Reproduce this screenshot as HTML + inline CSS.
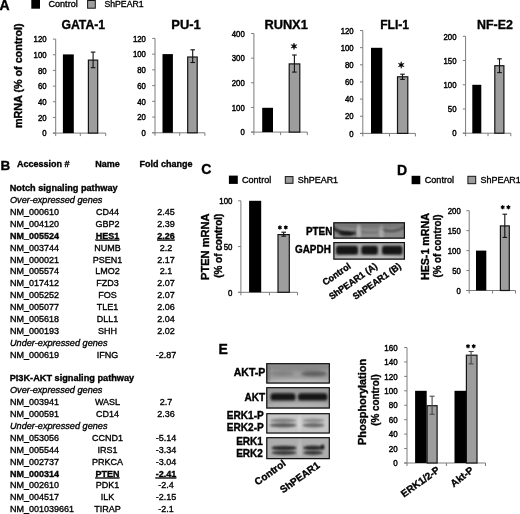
<!DOCTYPE html>
<html><head><meta charset="utf-8"><style>
html,body{margin:0;padding:0;background:#fff;}
svg{display:block;will-change:transform;}
svg text{font-family:"Liberation Sans", sans-serif;stroke:#000;stroke-width:0.35px;paint-order:stroke;}
</style></head><body>
<svg width="520" height="514" viewBox="0 0 520 514">
<rect width="520" height="514" fill="#fff"/>
<text x="-0.50" y="10.00" font-size="14" font-weight="bold">A</text>
<rect x="31.30" y="0.00" width="8.70" height="8.70" fill="#000"/>
<text x="48.50" y="6.90" font-size="9" textLength="29.20" lengthAdjust="spacingAndGlyphs">Control</text>
<rect x="87.60" y="0.50" width="7.70" height="7.70" fill="#9d9d9d" stroke="#141414" stroke-width="1"/>
<text x="104.40" y="6.90" font-size="9" textLength="39.20" lengthAdjust="spacingAndGlyphs">ShPEAR1</text>
<text x="21.80" y="75.70" font-size="11" font-weight="bold" text-anchor="middle" textLength="104.60" lengthAdjust="spacingAndGlyphs" transform="rotate(-90 21.80 75.70)">mRNA (% of control)</text>
<line x1="55.70" y1="39.10" x2="55.70" y2="133.10" stroke="#7c7c7c" stroke-width="1"/>
<line x1="52.90" y1="133.10" x2="105.70" y2="133.10" stroke="#7c7c7c" stroke-width="1"/>
<line x1="52.90" y1="133.10" x2="55.70" y2="133.10" stroke="#7c7c7c" stroke-width="1"/>
<text x="46.60" y="136.30" font-size="9" style="stroke-width:0.45px" text-anchor="end" textLength="4.34" lengthAdjust="spacingAndGlyphs">0</text>
<line x1="52.90" y1="117.43" x2="55.70" y2="117.43" stroke="#7c7c7c" stroke-width="1"/>
<text x="46.60" y="120.63" font-size="9" style="stroke-width:0.45px" text-anchor="end" textLength="8.67" lengthAdjust="spacingAndGlyphs">20</text>
<line x1="52.90" y1="101.77" x2="55.70" y2="101.77" stroke="#7c7c7c" stroke-width="1"/>
<text x="46.60" y="104.97" font-size="9" style="stroke-width:0.45px" text-anchor="end" textLength="8.67" lengthAdjust="spacingAndGlyphs">40</text>
<line x1="52.90" y1="86.10" x2="55.70" y2="86.10" stroke="#7c7c7c" stroke-width="1"/>
<text x="46.60" y="89.30" font-size="9" style="stroke-width:0.45px" text-anchor="end" textLength="8.67" lengthAdjust="spacingAndGlyphs">60</text>
<line x1="52.90" y1="70.43" x2="55.70" y2="70.43" stroke="#7c7c7c" stroke-width="1"/>
<text x="46.60" y="73.63" font-size="9" style="stroke-width:0.45px" text-anchor="end" textLength="8.67" lengthAdjust="spacingAndGlyphs">80</text>
<line x1="52.90" y1="54.77" x2="55.70" y2="54.77" stroke="#7c7c7c" stroke-width="1"/>
<text x="46.60" y="57.97" font-size="9" style="stroke-width:0.45px" text-anchor="end" textLength="13.01" lengthAdjust="spacingAndGlyphs">100</text>
<line x1="52.90" y1="39.10" x2="55.70" y2="39.10" stroke="#7c7c7c" stroke-width="1"/>
<text x="46.60" y="42.30" font-size="9" style="stroke-width:0.45px" text-anchor="end" textLength="13.01" lengthAdjust="spacingAndGlyphs">120</text>
<line x1="55.70" y1="133.10" x2="55.70" y2="136.10" stroke="#7c7c7c" stroke-width="1"/>
<line x1="80.30" y1="133.10" x2="80.30" y2="136.10" stroke="#7c7c7c" stroke-width="1"/>
<line x1="105.70" y1="133.10" x2="105.70" y2="136.10" stroke="#7c7c7c" stroke-width="1"/>
<rect x="62.90" y="54.40" width="10.90" height="78.70" fill="#000"/>
<rect x="88.40" y="60.10" width="9.30" height="73.00" fill="#9d9d9d" stroke="#141414" stroke-width="1.2"/>
<line x1="93.10" y1="52.10" x2="93.10" y2="67.70" stroke="#111" stroke-width="1.1"/>
<line x1="90.80" y1="52.10" x2="95.40" y2="52.10" stroke="#111" stroke-width="1.1"/>
<line x1="90.80" y1="67.70" x2="95.40" y2="67.70" stroke="#111" stroke-width="1.1"/>
<text x="61.40" y="29.10" font-size="13" font-weight="bold" textLength="43.80" lengthAdjust="spacingAndGlyphs">GATA-1</text>
<line x1="155.00" y1="38.40" x2="155.00" y2="132.80" stroke="#7c7c7c" stroke-width="1"/>
<line x1="152.20" y1="132.80" x2="204.90" y2="132.80" stroke="#7c7c7c" stroke-width="1"/>
<line x1="152.20" y1="132.80" x2="155.00" y2="132.80" stroke="#7c7c7c" stroke-width="1"/>
<text x="145.90" y="136.00" font-size="9" style="stroke-width:0.45px" text-anchor="end" textLength="4.34" lengthAdjust="spacingAndGlyphs">0</text>
<line x1="152.20" y1="117.07" x2="155.00" y2="117.07" stroke="#7c7c7c" stroke-width="1"/>
<text x="145.90" y="120.27" font-size="9" style="stroke-width:0.45px" text-anchor="end" textLength="8.67" lengthAdjust="spacingAndGlyphs">20</text>
<line x1="152.20" y1="101.33" x2="155.00" y2="101.33" stroke="#7c7c7c" stroke-width="1"/>
<text x="145.90" y="104.53" font-size="9" style="stroke-width:0.45px" text-anchor="end" textLength="8.67" lengthAdjust="spacingAndGlyphs">40</text>
<line x1="152.20" y1="85.60" x2="155.00" y2="85.60" stroke="#7c7c7c" stroke-width="1"/>
<text x="145.90" y="88.80" font-size="9" style="stroke-width:0.45px" text-anchor="end" textLength="8.67" lengthAdjust="spacingAndGlyphs">60</text>
<line x1="152.20" y1="69.87" x2="155.00" y2="69.87" stroke="#7c7c7c" stroke-width="1"/>
<text x="145.90" y="73.07" font-size="9" style="stroke-width:0.45px" text-anchor="end" textLength="8.67" lengthAdjust="spacingAndGlyphs">80</text>
<line x1="152.20" y1="54.13" x2="155.00" y2="54.13" stroke="#7c7c7c" stroke-width="1"/>
<text x="145.90" y="57.33" font-size="9" style="stroke-width:0.45px" text-anchor="end" textLength="13.01" lengthAdjust="spacingAndGlyphs">100</text>
<line x1="152.20" y1="38.40" x2="155.00" y2="38.40" stroke="#7c7c7c" stroke-width="1"/>
<text x="145.90" y="41.60" font-size="9" style="stroke-width:0.45px" text-anchor="end" textLength="13.01" lengthAdjust="spacingAndGlyphs">120</text>
<line x1="155.00" y1="132.80" x2="155.00" y2="135.80" stroke="#7c7c7c" stroke-width="1"/>
<line x1="179.70" y1="132.80" x2="179.70" y2="135.80" stroke="#7c7c7c" stroke-width="1"/>
<line x1="204.90" y1="132.80" x2="204.90" y2="135.80" stroke="#7c7c7c" stroke-width="1"/>
<rect x="162.50" y="54.10" width="10.40" height="78.70" fill="#000"/>
<rect x="187.70" y="57.00" width="9.50" height="75.80" fill="#9d9d9d" stroke="#141414" stroke-width="1.2"/>
<line x1="192.70" y1="49.80" x2="192.70" y2="62.50" stroke="#111" stroke-width="1.1"/>
<line x1="190.40" y1="49.80" x2="195.00" y2="49.80" stroke="#111" stroke-width="1.1"/>
<line x1="190.40" y1="62.50" x2="195.00" y2="62.50" stroke="#111" stroke-width="1.1"/>
<text x="171.30" y="29.10" font-size="13" font-weight="bold" textLength="29.50" lengthAdjust="spacingAndGlyphs">PU-1</text>
<line x1="253.90" y1="33.50" x2="253.90" y2="132.10" stroke="#7c7c7c" stroke-width="1"/>
<line x1="251.10" y1="132.10" x2="307.30" y2="132.10" stroke="#7c7c7c" stroke-width="1"/>
<line x1="251.10" y1="132.10" x2="253.90" y2="132.10" stroke="#7c7c7c" stroke-width="1"/>
<text x="244.80" y="135.30" font-size="9" style="stroke-width:0.45px" text-anchor="end" textLength="4.34" lengthAdjust="spacingAndGlyphs">0</text>
<line x1="251.10" y1="107.45" x2="253.90" y2="107.45" stroke="#7c7c7c" stroke-width="1"/>
<text x="244.80" y="110.65" font-size="9" style="stroke-width:0.45px" text-anchor="end" textLength="13.01" lengthAdjust="spacingAndGlyphs">100</text>
<line x1="251.10" y1="82.80" x2="253.90" y2="82.80" stroke="#7c7c7c" stroke-width="1"/>
<text x="244.80" y="86.00" font-size="9" style="stroke-width:0.45px" text-anchor="end" textLength="13.01" lengthAdjust="spacingAndGlyphs">200</text>
<line x1="251.10" y1="58.15" x2="253.90" y2="58.15" stroke="#7c7c7c" stroke-width="1"/>
<text x="244.80" y="61.35" font-size="9" style="stroke-width:0.45px" text-anchor="end" textLength="13.01" lengthAdjust="spacingAndGlyphs">300</text>
<line x1="251.10" y1="33.50" x2="253.90" y2="33.50" stroke="#7c7c7c" stroke-width="1"/>
<text x="244.80" y="36.70" font-size="9" style="stroke-width:0.45px" text-anchor="end" textLength="13.01" lengthAdjust="spacingAndGlyphs">400</text>
<line x1="253.90" y1="132.10" x2="253.90" y2="135.10" stroke="#7c7c7c" stroke-width="1"/>
<line x1="280.60" y1="132.10" x2="280.60" y2="135.10" stroke="#7c7c7c" stroke-width="1"/>
<line x1="307.30" y1="132.10" x2="307.30" y2="135.10" stroke="#7c7c7c" stroke-width="1"/>
<rect x="262.20" y="107.80" width="10.80" height="24.30" fill="#000"/>
<rect x="289.20" y="63.90" width="10.60" height="68.20" fill="#9d9d9d" stroke="#141414" stroke-width="1.2"/>
<line x1="294.40" y1="55.00" x2="294.40" y2="72.10" stroke="#111" stroke-width="1.1"/>
<line x1="292.10" y1="55.00" x2="296.70" y2="55.00" stroke="#111" stroke-width="1.1"/>
<line x1="292.10" y1="72.10" x2="296.70" y2="72.10" stroke="#111" stroke-width="1.1"/>
<text x="264.40" y="29.10" font-size="13" font-weight="bold" textLength="43.40" lengthAdjust="spacingAndGlyphs">RUNX1</text>
<polygon points="294.00,43.00 293.38,45.22 291.14,44.65 292.75,46.30 291.14,47.95 293.38,47.38 294.00,49.60 294.62,47.38 296.86,47.95 295.25,46.30 296.86,44.65 294.62,45.22" fill="#000" stroke="#000" stroke-width="0.5" stroke-linejoin="round"/>
<line x1="362.80" y1="30.50" x2="362.80" y2="133.40" stroke="#7c7c7c" stroke-width="1"/>
<line x1="360.00" y1="133.40" x2="415.40" y2="133.40" stroke="#7c7c7c" stroke-width="1"/>
<line x1="360.00" y1="133.40" x2="362.80" y2="133.40" stroke="#7c7c7c" stroke-width="1"/>
<text x="353.70" y="136.60" font-size="9" style="stroke-width:0.45px" text-anchor="end" textLength="4.34" lengthAdjust="spacingAndGlyphs">0</text>
<line x1="360.00" y1="116.25" x2="362.80" y2="116.25" stroke="#7c7c7c" stroke-width="1"/>
<text x="353.70" y="119.45" font-size="9" style="stroke-width:0.45px" text-anchor="end" textLength="8.67" lengthAdjust="spacingAndGlyphs">20</text>
<line x1="360.00" y1="99.10" x2="362.80" y2="99.10" stroke="#7c7c7c" stroke-width="1"/>
<text x="353.70" y="102.30" font-size="9" style="stroke-width:0.45px" text-anchor="end" textLength="8.67" lengthAdjust="spacingAndGlyphs">40</text>
<line x1="360.00" y1="81.95" x2="362.80" y2="81.95" stroke="#7c7c7c" stroke-width="1"/>
<text x="353.70" y="85.15" font-size="9" style="stroke-width:0.45px" text-anchor="end" textLength="8.67" lengthAdjust="spacingAndGlyphs">60</text>
<line x1="360.00" y1="64.80" x2="362.80" y2="64.80" stroke="#7c7c7c" stroke-width="1"/>
<text x="353.70" y="68.00" font-size="9" style="stroke-width:0.45px" text-anchor="end" textLength="8.67" lengthAdjust="spacingAndGlyphs">80</text>
<line x1="360.00" y1="47.65" x2="362.80" y2="47.65" stroke="#7c7c7c" stroke-width="1"/>
<text x="353.70" y="50.85" font-size="9" style="stroke-width:0.45px" text-anchor="end" textLength="13.01" lengthAdjust="spacingAndGlyphs">100</text>
<line x1="360.00" y1="30.50" x2="362.80" y2="30.50" stroke="#7c7c7c" stroke-width="1"/>
<text x="353.70" y="33.70" font-size="9" style="stroke-width:0.45px" text-anchor="end" textLength="13.01" lengthAdjust="spacingAndGlyphs">120</text>
<line x1="362.80" y1="133.40" x2="362.80" y2="136.40" stroke="#7c7c7c" stroke-width="1"/>
<line x1="389.50" y1="133.40" x2="389.50" y2="136.40" stroke="#7c7c7c" stroke-width="1"/>
<line x1="415.40" y1="133.40" x2="415.40" y2="136.40" stroke="#7c7c7c" stroke-width="1"/>
<rect x="371.00" y="47.80" width="11.30" height="85.60" fill="#000"/>
<rect x="397.50" y="76.80" width="10.30" height="56.60" fill="#9d9d9d" stroke="#141414" stroke-width="1.2"/>
<line x1="402.50" y1="74.20" x2="402.50" y2="79.40" stroke="#111" stroke-width="1.1"/>
<line x1="400.20" y1="74.20" x2="404.80" y2="74.20" stroke="#111" stroke-width="1.1"/>
<line x1="400.20" y1="79.40" x2="404.80" y2="79.40" stroke="#111" stroke-width="1.1"/>
<text x="380.20" y="29.10" font-size="13" font-weight="bold" textLength="28.90" lengthAdjust="spacingAndGlyphs">FLI-1</text>
<polygon points="401.20,61.70 400.57,63.92 398.34,63.35 399.95,65.00 398.34,66.65 400.57,66.08 401.20,68.30 401.82,66.08 404.06,66.65 402.45,65.00 404.06,63.35 401.82,63.92" fill="#000" stroke="#000" stroke-width="0.5" stroke-linejoin="round"/>
<line x1="465.60" y1="36.30" x2="465.60" y2="133.20" stroke="#7c7c7c" stroke-width="1"/>
<line x1="462.80" y1="133.20" x2="510.80" y2="133.20" stroke="#7c7c7c" stroke-width="1"/>
<line x1="462.80" y1="133.20" x2="465.60" y2="133.20" stroke="#7c7c7c" stroke-width="1"/>
<text x="456.50" y="136.40" font-size="9" style="stroke-width:0.45px" text-anchor="end" textLength="4.34" lengthAdjust="spacingAndGlyphs">0</text>
<line x1="462.80" y1="108.97" x2="465.60" y2="108.97" stroke="#7c7c7c" stroke-width="1"/>
<text x="456.50" y="112.17" font-size="9" style="stroke-width:0.45px" text-anchor="end" textLength="8.67" lengthAdjust="spacingAndGlyphs">50</text>
<line x1="462.80" y1="84.75" x2="465.60" y2="84.75" stroke="#7c7c7c" stroke-width="1"/>
<text x="456.50" y="87.95" font-size="9" style="stroke-width:0.45px" text-anchor="end" textLength="13.01" lengthAdjust="spacingAndGlyphs">100</text>
<line x1="462.80" y1="60.52" x2="465.60" y2="60.52" stroke="#7c7c7c" stroke-width="1"/>
<text x="456.50" y="63.72" font-size="9" style="stroke-width:0.45px" text-anchor="end" textLength="13.01" lengthAdjust="spacingAndGlyphs">150</text>
<line x1="462.80" y1="36.30" x2="465.60" y2="36.30" stroke="#7c7c7c" stroke-width="1"/>
<text x="456.50" y="39.50" font-size="9" style="stroke-width:0.45px" text-anchor="end" textLength="13.01" lengthAdjust="spacingAndGlyphs">200</text>
<line x1="465.60" y1="133.20" x2="465.60" y2="136.20" stroke="#7c7c7c" stroke-width="1"/>
<line x1="488.00" y1="133.20" x2="488.00" y2="136.20" stroke="#7c7c7c" stroke-width="1"/>
<line x1="510.80" y1="133.20" x2="510.80" y2="136.20" stroke="#7c7c7c" stroke-width="1"/>
<rect x="472.30" y="84.80" width="9.00" height="48.40" fill="#000"/>
<rect x="494.80" y="65.70" width="9.10" height="67.50" fill="#9d9d9d" stroke="#141414" stroke-width="1.2"/>
<line x1="499.50" y1="58.80" x2="499.50" y2="72.60" stroke="#111" stroke-width="1.1"/>
<line x1="497.20" y1="58.80" x2="501.80" y2="58.80" stroke="#111" stroke-width="1.1"/>
<line x1="497.20" y1="72.60" x2="501.80" y2="72.60" stroke="#111" stroke-width="1.1"/>
<text x="477.10" y="29.10" font-size="13" font-weight="bold" textLength="35.80" lengthAdjust="spacingAndGlyphs">NF-E2</text>
<text x="0.60" y="170.40" font-size="13.5" font-weight="bold">B</text>
<text x="16.90" y="167.40" font-size="9.25" font-weight="bold" textLength="52.53" lengthAdjust="spacingAndGlyphs">Accession #</text>
<text x="107.50" y="167.40" font-size="9.25" font-weight="bold" text-anchor="middle" textLength="24.52" lengthAdjust="spacingAndGlyphs">Name</text>
<text x="166.00" y="167.40" font-size="9.25" font-weight="bold" text-anchor="middle" textLength="53.02" lengthAdjust="spacingAndGlyphs">Fold change</text>
<text x="9.70" y="191.18" font-size="9.25" font-weight="bold" textLength="107.90" lengthAdjust="spacingAndGlyphs">Notch signaling pathway</text>
<text x="10.00" y="203.07" font-size="9.25" font-style="italic" textLength="92.40" lengthAdjust="spacingAndGlyphs">Over-expressed genes</text>
<text x="10.00" y="214.96" font-size="9.25" textLength="49.05" lengthAdjust="spacingAndGlyphs">NM_000610</text>
<text x="107.50" y="214.96" font-size="9.25" text-anchor="middle" textLength="23.02" lengthAdjust="spacingAndGlyphs">CD44</text>
<text x="166.00" y="214.96" font-size="9.25" text-anchor="middle" textLength="17.53" lengthAdjust="spacingAndGlyphs">2.45</text>
<text x="10.00" y="226.85" font-size="9.25" textLength="49.05" lengthAdjust="spacingAndGlyphs">NM_004120</text>
<text x="107.50" y="226.85" font-size="9.25" text-anchor="middle" textLength="24.02" lengthAdjust="spacingAndGlyphs">GBP2</text>
<text x="166.00" y="226.85" font-size="9.25" text-anchor="middle" textLength="17.53" lengthAdjust="spacingAndGlyphs">2.39</text>
<text x="10.00" y="238.74" font-size="9.25" font-weight="bold" textLength="49.05" lengthAdjust="spacingAndGlyphs">NM_005524</text>
<text x="107.50" y="238.74" font-size="9.25" font-weight="bold" text-anchor="middle" textLength="23.52" lengthAdjust="spacingAndGlyphs" text-decoration="underline">HES1</text>
<text x="166.00" y="238.74" font-size="9.25" font-weight="bold" text-anchor="middle" textLength="17.53" lengthAdjust="spacingAndGlyphs" text-decoration="underline">2.26</text>
<text x="10.00" y="250.63" font-size="9.25" textLength="49.05" lengthAdjust="spacingAndGlyphs">NM_003744</text>
<text x="107.50" y="250.63" font-size="9.25" text-anchor="middle" textLength="26.50" lengthAdjust="spacingAndGlyphs">NUMB</text>
<text x="166.00" y="250.63" font-size="9.25" text-anchor="middle" textLength="12.52" lengthAdjust="spacingAndGlyphs">2.2</text>
<text x="10.00" y="262.52" font-size="9.25" textLength="49.05" lengthAdjust="spacingAndGlyphs">NM_000021</text>
<text x="107.50" y="262.52" font-size="9.25" text-anchor="middle" textLength="29.52" lengthAdjust="spacingAndGlyphs">PSEN1</text>
<text x="166.00" y="262.52" font-size="9.25" text-anchor="middle" textLength="17.53" lengthAdjust="spacingAndGlyphs">2.17</text>
<text x="10.00" y="274.41" font-size="9.25" textLength="49.05" lengthAdjust="spacingAndGlyphs">NM_005574</text>
<text x="107.50" y="274.41" font-size="9.25" text-anchor="middle" textLength="24.52" lengthAdjust="spacingAndGlyphs">LMO2</text>
<text x="166.00" y="274.41" font-size="9.25" text-anchor="middle" textLength="12.52" lengthAdjust="spacingAndGlyphs">2.1</text>
<text x="10.00" y="286.30" font-size="9.25" textLength="49.05" lengthAdjust="spacingAndGlyphs">NM_017412</text>
<text x="107.50" y="286.30" font-size="9.25" text-anchor="middle" textLength="22.50" lengthAdjust="spacingAndGlyphs">FZD3</text>
<text x="166.00" y="286.30" font-size="9.25" text-anchor="middle" textLength="17.53" lengthAdjust="spacingAndGlyphs">2.07</text>
<text x="10.00" y="298.19" font-size="9.25" textLength="49.05" lengthAdjust="spacingAndGlyphs">NM_005252</text>
<text x="107.50" y="298.19" font-size="9.25" text-anchor="middle" textLength="18.52" lengthAdjust="spacingAndGlyphs">FOS</text>
<text x="166.00" y="298.19" font-size="9.25" text-anchor="middle" textLength="17.53" lengthAdjust="spacingAndGlyphs">2.07</text>
<text x="10.00" y="310.08" font-size="9.25" textLength="49.05" lengthAdjust="spacingAndGlyphs">NM_005077</text>
<text x="107.50" y="310.08" font-size="9.25" text-anchor="middle" textLength="21.52" lengthAdjust="spacingAndGlyphs">TLE1</text>
<text x="166.00" y="310.08" font-size="9.25" text-anchor="middle" textLength="17.53" lengthAdjust="spacingAndGlyphs">2.06</text>
<text x="10.00" y="321.97" font-size="9.25" textLength="49.05" lengthAdjust="spacingAndGlyphs">NM_005618</text>
<text x="107.50" y="321.97" font-size="9.25" text-anchor="middle" textLength="21.52" lengthAdjust="spacingAndGlyphs">DLL1</text>
<text x="166.00" y="321.97" font-size="9.25" text-anchor="middle" textLength="17.53" lengthAdjust="spacingAndGlyphs">2.04</text>
<text x="10.00" y="333.86" font-size="9.25" textLength="49.05" lengthAdjust="spacingAndGlyphs">NM_000193</text>
<text x="107.50" y="333.86" font-size="9.25" text-anchor="middle" textLength="19.02" lengthAdjust="spacingAndGlyphs">SHH</text>
<text x="166.00" y="333.86" font-size="9.25" text-anchor="middle" textLength="17.53" lengthAdjust="spacingAndGlyphs">2.02</text>
<text x="10.00" y="345.75" font-size="9.25" font-style="italic" textLength="97.50" lengthAdjust="spacingAndGlyphs">Under-expressed genes</text>
<text x="10.00" y="357.64" font-size="9.25" textLength="49.05" lengthAdjust="spacingAndGlyphs">NM_000619</text>
<text x="107.50" y="357.64" font-size="9.25" text-anchor="middle" textLength="21.50" lengthAdjust="spacingAndGlyphs">IFNG</text>
<text x="166.00" y="357.64" font-size="9.25" text-anchor="middle" textLength="20.52" lengthAdjust="spacingAndGlyphs">-2.87</text>
<text x="9.70" y="381.42" font-size="9.25" font-weight="bold" textLength="124.50" lengthAdjust="spacingAndGlyphs">PI3K-AKT signaling pathway</text>
<text x="10.00" y="393.31" font-size="9.25" font-style="italic" textLength="92.40" lengthAdjust="spacingAndGlyphs">Over-expressed genes</text>
<text x="10.00" y="405.20" font-size="9.25" textLength="49.05" lengthAdjust="spacingAndGlyphs">NM_003941</text>
<text x="107.50" y="405.20" font-size="9.25" text-anchor="middle" textLength="25.17" lengthAdjust="spacingAndGlyphs">WASL</text>
<text x="166.00" y="405.20" font-size="9.25" text-anchor="middle" textLength="12.52" lengthAdjust="spacingAndGlyphs">2.7</text>
<text x="10.00" y="417.09" font-size="9.25" textLength="49.05" lengthAdjust="spacingAndGlyphs">NM_000591</text>
<text x="107.50" y="417.09" font-size="9.25" text-anchor="middle" textLength="23.02" lengthAdjust="spacingAndGlyphs">CD14</text>
<text x="166.00" y="417.09" font-size="9.25" text-anchor="middle" textLength="17.53" lengthAdjust="spacingAndGlyphs">2.36</text>
<text x="10.00" y="428.98" font-size="9.25" font-style="italic" textLength="97.50" lengthAdjust="spacingAndGlyphs">Under-expressed genes</text>
<text x="10.00" y="440.87" font-size="9.25" textLength="49.05" lengthAdjust="spacingAndGlyphs">NM_053056</text>
<text x="107.50" y="440.87" font-size="9.25" text-anchor="middle" textLength="31.02" lengthAdjust="spacingAndGlyphs">CCND1</text>
<text x="166.00" y="440.87" font-size="9.25" text-anchor="middle" textLength="20.52" lengthAdjust="spacingAndGlyphs">-5.14</text>
<text x="10.00" y="452.76" font-size="9.25" textLength="49.05" lengthAdjust="spacingAndGlyphs">NM_005544</text>
<text x="107.50" y="452.76" font-size="9.25" text-anchor="middle" textLength="20.02" lengthAdjust="spacingAndGlyphs">IRS1</text>
<text x="166.00" y="452.76" font-size="9.25" text-anchor="middle" textLength="20.52" lengthAdjust="spacingAndGlyphs">-3.34</text>
<text x="10.00" y="464.65" font-size="9.25" textLength="49.05" lengthAdjust="spacingAndGlyphs">NM_002737</text>
<text x="107.50" y="464.65" font-size="9.25" text-anchor="middle" textLength="31.02" lengthAdjust="spacingAndGlyphs">PRKCA</text>
<text x="166.00" y="464.65" font-size="9.25" text-anchor="middle" textLength="20.52" lengthAdjust="spacingAndGlyphs">-3.04</text>
<text x="10.00" y="476.54" font-size="9.25" font-weight="bold" textLength="49.05" lengthAdjust="spacingAndGlyphs">NM_000314</text>
<text x="107.50" y="476.54" font-size="9.25" font-weight="bold" text-anchor="middle" textLength="24.02" lengthAdjust="spacingAndGlyphs" text-decoration="underline">PTEN</text>
<text x="166.00" y="476.54" font-size="9.25" font-weight="bold" text-anchor="middle" textLength="20.52" lengthAdjust="spacingAndGlyphs" text-decoration="underline">-2.41</text>
<text x="10.00" y="488.43" font-size="9.25" textLength="49.05" lengthAdjust="spacingAndGlyphs">NM_002610</text>
<text x="107.50" y="488.43" font-size="9.25" text-anchor="middle" textLength="23.52" lengthAdjust="spacingAndGlyphs">PDK1</text>
<text x="166.00" y="488.43" font-size="9.25" text-anchor="middle" textLength="15.52" lengthAdjust="spacingAndGlyphs">-2.4</text>
<text x="10.00" y="500.32" font-size="9.25" textLength="49.05" lengthAdjust="spacingAndGlyphs">NM_004517</text>
<text x="107.50" y="500.32" font-size="9.25" text-anchor="middle" textLength="13.52" lengthAdjust="spacingAndGlyphs">ILK</text>
<text x="166.00" y="500.32" font-size="9.25" text-anchor="middle" textLength="20.52" lengthAdjust="spacingAndGlyphs">-2.15</text>
<text x="10.00" y="512.21" font-size="9.25" textLength="64.06" lengthAdjust="spacingAndGlyphs">NM_001039661</text>
<text x="107.50" y="512.21" font-size="9.25" text-anchor="middle" textLength="26.52" lengthAdjust="spacingAndGlyphs">TIRAP</text>
<text x="166.00" y="512.21" font-size="9.25" text-anchor="middle" textLength="15.52" lengthAdjust="spacingAndGlyphs">-2.1</text>
<text x="201.20" y="174.40" font-size="14" font-weight="bold">C</text>
<rect x="228.90" y="175.60" width="8.90" height="8.30" fill="#000"/>
<text x="242.00" y="182.90" font-size="9" textLength="29.20" lengthAdjust="spacingAndGlyphs">Control</text>
<rect x="285.30" y="176.60" width="7.70" height="6.70" fill="#9d9d9d" stroke="#141414" stroke-width="1"/>
<text x="297.80" y="182.90" font-size="9" textLength="40.30" lengthAdjust="spacingAndGlyphs">ShPEAR1</text>
<line x1="240.90" y1="200.80" x2="240.90" y2="292.30" stroke="#7c7c7c" stroke-width="1"/>
<line x1="238.10" y1="292.30" x2="297.50" y2="292.30" stroke="#7c7c7c" stroke-width="1"/>
<line x1="238.10" y1="292.30" x2="240.90" y2="292.30" stroke="#7c7c7c" stroke-width="1"/>
<text x="232.50" y="295.50" font-size="9" style="stroke-width:0.45px" text-anchor="end" textLength="4.39" lengthAdjust="spacingAndGlyphs">0</text>
<line x1="238.10" y1="246.55" x2="240.90" y2="246.55" stroke="#7c7c7c" stroke-width="1"/>
<text x="232.50" y="249.75" font-size="9" style="stroke-width:0.45px" text-anchor="end" textLength="8.78" lengthAdjust="spacingAndGlyphs">50</text>
<line x1="238.10" y1="200.80" x2="240.90" y2="200.80" stroke="#7c7c7c" stroke-width="1"/>
<text x="232.50" y="204.00" font-size="9" style="stroke-width:0.45px" text-anchor="end" textLength="13.18" lengthAdjust="spacingAndGlyphs">100</text>
<line x1="240.90" y1="292.30" x2="240.90" y2="295.30" stroke="#7c7c7c" stroke-width="1"/>
<line x1="269.50" y1="292.30" x2="269.50" y2="295.30" stroke="#7c7c7c" stroke-width="1"/>
<line x1="297.50" y1="292.30" x2="297.50" y2="295.30" stroke="#7c7c7c" stroke-width="1"/>
<rect x="249.10" y="200.80" width="12.10" height="91.50" fill="#000"/>
<rect x="278.00" y="234.60" width="11.30" height="57.70" fill="#9d9d9d" stroke="#141414" stroke-width="1.2"/>
<line x1="283.70" y1="232.20" x2="283.70" y2="236.20" stroke="#111" stroke-width="1.1"/>
<line x1="281.40" y1="232.20" x2="286.00" y2="232.20" stroke="#111" stroke-width="1.1"/>
<line x1="281.40" y1="236.20" x2="286.00" y2="236.20" stroke="#111" stroke-width="1.1"/>
<path d="M279.90 229.05L279.90 225.95M278.56 228.28L281.24 226.72M281.24 228.28L278.56 226.72" stroke="#000" stroke-width="1.25" stroke-linecap="round" fill="none"/>
<circle cx="279.9" cy="227.5" r="0.75" fill="#000"/>
<path d="M285.80 228.95L285.80 225.85M284.46 228.18L287.14 226.62M287.14 228.18L284.46 226.62" stroke="#000" stroke-width="1.25" stroke-linecap="round" fill="none"/>
<circle cx="285.8" cy="227.4" r="0.75" fill="#000"/>
<text x="209.40" y="246.70" font-size="11" font-weight="bold" text-anchor="middle" textLength="66.40" lengthAdjust="spacingAndGlyphs" transform="rotate(-90 209.40 246.70)">PTEN mRNA</text>
<text x="221.70" y="245.70" font-size="10" font-weight="bold" text-anchor="middle" textLength="64.30" lengthAdjust="spacingAndGlyphs" transform="rotate(-90 221.70 245.70)">(% of control)</text>
<text x="396.90" y="174.50" font-size="14" font-weight="bold">D</text>
<rect x="411.60" y="175.80" width="8.70" height="8.40" fill="#000"/>
<text x="424.80" y="182.80" font-size="9" textLength="29.20" lengthAdjust="spacingAndGlyphs">Control</text>
<rect x="467.90" y="176.30" width="7.80" height="7.40" fill="#9d9d9d" stroke="#141414" stroke-width="1"/>
<text x="480.50" y="183.00" font-size="9" textLength="40.30" lengthAdjust="spacingAndGlyphs">ShPEAR1</text>
<line x1="469.20" y1="210.70" x2="469.20" y2="290.50" stroke="#7c7c7c" stroke-width="1"/>
<line x1="466.40" y1="290.50" x2="515.50" y2="290.50" stroke="#7c7c7c" stroke-width="1"/>
<line x1="466.40" y1="290.50" x2="469.20" y2="290.50" stroke="#7c7c7c" stroke-width="1"/>
<text x="460.80" y="293.70" font-size="9" style="stroke-width:0.45px" text-anchor="end" textLength="4.34" lengthAdjust="spacingAndGlyphs">0</text>
<line x1="466.40" y1="270.55" x2="469.20" y2="270.55" stroke="#7c7c7c" stroke-width="1"/>
<text x="460.80" y="273.75" font-size="9" style="stroke-width:0.45px" text-anchor="end" textLength="8.67" lengthAdjust="spacingAndGlyphs">50</text>
<line x1="466.40" y1="250.60" x2="469.20" y2="250.60" stroke="#7c7c7c" stroke-width="1"/>
<text x="460.80" y="253.80" font-size="9" style="stroke-width:0.45px" text-anchor="end" textLength="13.01" lengthAdjust="spacingAndGlyphs">100</text>
<line x1="466.40" y1="230.65" x2="469.20" y2="230.65" stroke="#7c7c7c" stroke-width="1"/>
<text x="460.80" y="233.85" font-size="9" style="stroke-width:0.45px" text-anchor="end" textLength="13.01" lengthAdjust="spacingAndGlyphs">150</text>
<line x1="466.40" y1="210.70" x2="469.20" y2="210.70" stroke="#7c7c7c" stroke-width="1"/>
<text x="460.80" y="213.90" font-size="9" style="stroke-width:0.45px" text-anchor="end" textLength="13.01" lengthAdjust="spacingAndGlyphs">200</text>
<line x1="469.20" y1="290.50" x2="469.20" y2="293.50" stroke="#7c7c7c" stroke-width="1"/>
<line x1="492.60" y1="290.50" x2="492.60" y2="293.50" stroke="#7c7c7c" stroke-width="1"/>
<line x1="515.50" y1="290.50" x2="515.50" y2="293.50" stroke="#7c7c7c" stroke-width="1"/>
<rect x="476.00" y="250.60" width="10.30" height="39.90" fill="#000"/>
<rect x="500.40" y="225.90" width="8.90" height="64.60" fill="#9d9d9d" stroke="#141414" stroke-width="1.2"/>
<line x1="504.80" y1="214.20" x2="504.80" y2="237.40" stroke="#111" stroke-width="1.1"/>
<line x1="502.50" y1="214.20" x2="507.10" y2="214.20" stroke="#111" stroke-width="1.1"/>
<line x1="502.50" y1="237.40" x2="507.10" y2="237.40" stroke="#111" stroke-width="1.1"/>
<path d="M502.70 208.75L502.70 205.65M501.36 207.97L504.04 206.42M504.04 207.97L501.36 206.42" stroke="#000" stroke-width="1.25" stroke-linecap="round" fill="none"/>
<circle cx="502.7" cy="207.2" r="0.75" fill="#000"/>
<path d="M508.40 208.75L508.40 205.65M507.06 207.97L509.74 206.42M509.74 207.97L507.06 206.42" stroke="#000" stroke-width="1.25" stroke-linecap="round" fill="none"/>
<circle cx="508.4" cy="207.2" r="0.75" fill="#000"/>
<text x="428.80" y="246.60" font-size="11" font-weight="bold" text-anchor="middle" textLength="66.90" lengthAdjust="spacingAndGlyphs" transform="rotate(-90 428.80 246.60)">HES-1 mRNA</text>
<text x="441.30" y="246.10" font-size="10" font-weight="bold" text-anchor="middle" textLength="63.00" lengthAdjust="spacingAndGlyphs" transform="rotate(-90 441.30 246.10)">(% of control)</text>
<defs>
<filter id="bl1" x="-20%" y="-50%" width="140%" height="200%"><feGaussianBlur stdDeviation="1.6"/></filter>
<filter id="bl2" x="-20%" y="-50%" width="140%" height="200%"><feGaussianBlur stdDeviation="1.0"/></filter>
</defs>
<g><rect x="333.3" y="222.2" width="71.7" height="16.5" fill="#8a8a8a"/>
<g clip-path="url(#c333_222)">
<ellipse cx="368" cy="225" rx="40" ry="3" fill="#6e6e6e" opacity="0.8" filter="url(#bl1)"/>
<path d="M333 228 Q342 235 356 233" fill="none" stroke="#1e1e1e" stroke-width="3" opacity="0.9" filter="url(#bl2)"/>
<ellipse cx="346" cy="233.5" rx="7" ry="2" fill="#111" opacity="0.8" filter="url(#bl2)"/>
<path d="M381 229 Q392 234 405 227" fill="none" stroke="#3a3a3a" stroke-width="2" opacity="0.8" filter="url(#bl2)"/>
<path d="M360 231 Q368 234 378 232" fill="none" stroke="#555" stroke-width="1.6" opacity="0.6" filter="url(#bl2)"/>
<ellipse cx="358.8" cy="232" rx="1.8" ry="8" fill="#c4c4c4" opacity="0.9" filter="url(#bl1)"/>
<ellipse cx="381.5" cy="233" rx="1.8" ry="8" fill="#c0c0c0" opacity="0.8" filter="url(#bl1)"/>
</g>
<clipPath id="c333_222"><rect x="333.3" y="222.2" width="71.7" height="16.5"/></clipPath>
<rect x="333.90000000000003" y="222.79999999999998" width="70.5" height="15.3" fill="none" stroke="#111" stroke-width="1.2"/></g>
<g><rect x="333.3" y="242.0" width="71.7" height="17.7" fill="#a8a8a8"/>
<g clip-path="url(#c333_242)">
<rect x="336" y="245.8" width="22" height="9" rx="2.5" fill="#161616" opacity="1" filter="url(#bl2)"/>
<rect x="361.3" y="245.8" width="16.6" height="9" rx="2.5" fill="#161616" opacity="1" filter="url(#bl2)"/>
<rect x="382" y="245.8" width="20.5" height="9" rx="2.5" fill="#161616" opacity="1" filter="url(#bl2)"/>
<ellipse cx="368" cy="257.5" rx="36" ry="1.5" fill="#c4c4c4" opacity="0.8" filter="url(#bl2)"/>
</g>
<clipPath id="c333_242"><rect x="333.3" y="242.0" width="71.7" height="17.7"/></clipPath>
<rect x="333.90000000000003" y="242.6" width="70.5" height="16.5" fill="none" stroke="#111" stroke-width="1.2"/></g>
<text x="332.30" y="234.50" font-size="10" font-weight="bold" text-anchor="end" textLength="26.30" lengthAdjust="spacingAndGlyphs">PTEN</text>
<text x="330.80" y="252.70" font-size="10" font-weight="bold" text-anchor="end" textLength="35.80" lengthAdjust="spacingAndGlyphs">GAPDH</text>
<text x="351.50" y="267.50" font-size="9.25" font-weight="bold" text-anchor="end" textLength="32.00" lengthAdjust="spacingAndGlyphs" transform="rotate(-35 351.50 267.50)">Control</text>
<text x="378.00" y="267.50" font-size="9.25" font-weight="bold" text-anchor="end" textLength="56.52" lengthAdjust="spacingAndGlyphs" transform="rotate(-35 378.00 267.50)">ShPEAR1 (A)</text>
<text x="401.80" y="267.50" font-size="9.25" font-weight="bold" text-anchor="end" textLength="56.52" lengthAdjust="spacingAndGlyphs" transform="rotate(-35 401.80 267.50)">ShPEAR1 (B)</text>
<text x="218.50" y="354.20" font-size="14" font-weight="bold">E</text>
<g><rect x="266.2" y="363.1" width="63.7" height="20.5" fill="#9c9c9c"/>
<g clip-path="url(#c266_363)">
<ellipse cx="298" cy="367" rx="36" ry="4" fill="#858585" opacity="0.9" filter="url(#bl1)"/>
<ellipse cx="282" cy="373.5" rx="12" ry="2.5" fill="#7a7a7a" opacity="0.8" filter="url(#bl1)"/>
<ellipse cx="314" cy="373.8" rx="13" ry="2.8" fill="#505050" opacity="0.8" filter="url(#bl1)"/>
<ellipse cx="298" cy="381.5" rx="36" ry="2.5" fill="#bdbdbd" opacity="0.9" filter="url(#bl1)"/>
<ellipse cx="268" cy="373" rx="2" ry="10" fill="#707070" opacity="0.7" filter="url(#bl1)"/>
</g>
<clipPath id="c266_363"><rect x="266.2" y="363.1" width="63.7" height="20.5"/></clipPath>
<rect x="266.8" y="363.70000000000005" width="62.5" height="19.3" fill="none" stroke="#111" stroke-width="1.2"/></g>
<g><rect x="266.2" y="387.1" width="63.7" height="21.5" fill="#9a9a9a"/>
<g clip-path="url(#c266_387)">
<rect x="270.5" y="393.2" width="25" height="7.4" rx="3.2" fill="#151515" opacity="1" filter="url(#bl2)"/>
<rect x="298" y="393.2" width="29.5" height="7.4" rx="3.2" fill="#151515" opacity="1" filter="url(#bl2)"/>
<ellipse cx="298" cy="405.5" rx="34" ry="2.5" fill="#c0c0c0" opacity="0.7" filter="url(#bl1)"/>
</g>
<clipPath id="c266_387"><rect x="266.2" y="387.1" width="63.7" height="21.5"/></clipPath>
<rect x="266.8" y="387.70000000000005" width="62.5" height="20.3" fill="none" stroke="#111" stroke-width="1.2"/></g>
<g><rect x="266.2" y="413.1" width="63.7" height="20.5" fill="#c6c6c6"/>
<g clip-path="url(#c266_413)">
<ellipse cx="283" cy="420.5" rx="13" ry="1.9" fill="#777" opacity="0.9" filter="url(#bl2)"/>
<ellipse cx="313.5" cy="420.5" rx="11" ry="1.9" fill="#858585" opacity="0.9" filter="url(#bl2)"/>
<ellipse cx="283" cy="425.3" rx="13.5" ry="2.2" fill="#505050" opacity="0.9" filter="url(#bl2)"/>
<ellipse cx="313.5" cy="425.3" rx="11" ry="2.2" fill="#606060" opacity="0.9" filter="url(#bl2)"/>
<ellipse cx="299.4" cy="423" rx="1.5" ry="10" fill="#ddd" opacity="0.8" filter="url(#bl1)"/>
</g>
<clipPath id="c266_413"><rect x="266.2" y="413.1" width="63.7" height="20.5"/></clipPath>
<rect x="266.8" y="413.70000000000005" width="62.5" height="19.3" fill="none" stroke="#111" stroke-width="1.2"/></g>
<g><rect x="266.2" y="437.1" width="63.7" height="22.1" fill="#aeaeae"/>
<g clip-path="url(#c266_437)">
<ellipse cx="284" cy="448" rx="12.5" ry="2.3" fill="#2a2a2a" opacity="1" filter="url(#bl2)"/>
<ellipse cx="313" cy="447.8" rx="10" ry="2.3" fill="#2a2a2a" opacity="1" filter="url(#bl2)"/>
<ellipse cx="284" cy="452.8" rx="12.5" ry="2.2" fill="#3a3a3a" opacity="1" filter="url(#bl2)"/>
<ellipse cx="313" cy="452.8" rx="10" ry="2.2" fill="#3a3a3a" opacity="1" filter="url(#bl2)"/>
<ellipse cx="322.5" cy="447" rx="1.8" ry="2.5" fill="#111" opacity="1" filter="url(#bl2)"/>
<ellipse cx="299.8" cy="448" rx="1.5" ry="10" fill="#ccc" opacity="0.7" filter="url(#bl1)"/>
</g>
<clipPath id="c266_437"><rect x="266.2" y="437.1" width="63.7" height="22.1"/></clipPath>
<rect x="266.8" y="437.70000000000005" width="62.5" height="20.900000000000002" fill="none" stroke="#111" stroke-width="1.2"/></g>
<text x="265.30" y="376.00" font-size="10" font-weight="bold" text-anchor="end" textLength="31.60" lengthAdjust="spacingAndGlyphs">AKT-P</text>
<text x="265.10" y="400.80" font-size="10" font-weight="bold" text-anchor="end" textLength="20.70" lengthAdjust="spacingAndGlyphs">AKT</text>
<text x="263.70" y="419.00" font-size="10" font-weight="bold" text-anchor="end" textLength="36.90" lengthAdjust="spacingAndGlyphs">ERK1-P</text>
<text x="263.70" y="430.90" font-size="10" font-weight="bold" text-anchor="end" textLength="36.90" lengthAdjust="spacingAndGlyphs">ERK2-P</text>
<text x="262.90" y="444.80" font-size="10" font-weight="bold" text-anchor="end" textLength="26.70" lengthAdjust="spacingAndGlyphs">ERK1</text>
<text x="262.90" y="456.50" font-size="10" font-weight="bold" text-anchor="end" textLength="26.70" lengthAdjust="spacingAndGlyphs">ERK2</text>
<text x="286.50" y="465.00" font-size="10" font-weight="bold" text-anchor="end" transform="rotate(-35.5 286.50 465.00)">Control</text>
<text x="320.50" y="466.80" font-size="10" font-weight="bold" text-anchor="end" transform="rotate(-35.5 320.50 466.80)">ShPEAR1</text>
<line x1="407.00" y1="347.50" x2="407.00" y2="463.00" stroke="#7c7c7c" stroke-width="1"/>
<line x1="404.20" y1="463.00" x2="485.50" y2="463.00" stroke="#7c7c7c" stroke-width="1"/>
<line x1="404.20" y1="463.00" x2="407.00" y2="463.00" stroke="#7c7c7c" stroke-width="1"/>
<text x="397.70" y="466.20" font-size="9" style="stroke-width:0.45px" text-anchor="end" textLength="4.45" lengthAdjust="spacingAndGlyphs">0</text>
<line x1="404.20" y1="448.56" x2="407.00" y2="448.56" stroke="#7c7c7c" stroke-width="1"/>
<text x="397.70" y="451.76" font-size="9" style="stroke-width:0.45px" text-anchor="end" textLength="8.90" lengthAdjust="spacingAndGlyphs">20</text>
<line x1="404.20" y1="434.12" x2="407.00" y2="434.12" stroke="#7c7c7c" stroke-width="1"/>
<text x="397.70" y="437.32" font-size="9" style="stroke-width:0.45px" text-anchor="end" textLength="8.90" lengthAdjust="spacingAndGlyphs">40</text>
<line x1="404.20" y1="419.69" x2="407.00" y2="419.69" stroke="#7c7c7c" stroke-width="1"/>
<text x="397.70" y="422.89" font-size="9" style="stroke-width:0.45px" text-anchor="end" textLength="8.90" lengthAdjust="spacingAndGlyphs">60</text>
<line x1="404.20" y1="405.25" x2="407.00" y2="405.25" stroke="#7c7c7c" stroke-width="1"/>
<text x="397.70" y="408.45" font-size="9" style="stroke-width:0.45px" text-anchor="end" textLength="8.90" lengthAdjust="spacingAndGlyphs">80</text>
<line x1="404.20" y1="390.81" x2="407.00" y2="390.81" stroke="#7c7c7c" stroke-width="1"/>
<text x="397.70" y="394.01" font-size="9" style="stroke-width:0.45px" text-anchor="end" textLength="13.34" lengthAdjust="spacingAndGlyphs">100</text>
<line x1="404.20" y1="376.38" x2="407.00" y2="376.38" stroke="#7c7c7c" stroke-width="1"/>
<text x="397.70" y="379.57" font-size="9" style="stroke-width:0.45px" text-anchor="end" textLength="13.34" lengthAdjust="spacingAndGlyphs">120</text>
<line x1="404.20" y1="361.94" x2="407.00" y2="361.94" stroke="#7c7c7c" stroke-width="1"/>
<text x="397.70" y="365.14" font-size="9" style="stroke-width:0.45px" text-anchor="end" textLength="13.34" lengthAdjust="spacingAndGlyphs">140</text>
<line x1="404.20" y1="347.50" x2="407.00" y2="347.50" stroke="#7c7c7c" stroke-width="1"/>
<text x="397.70" y="350.70" font-size="9" style="stroke-width:0.45px" text-anchor="end" textLength="13.34" lengthAdjust="spacingAndGlyphs">160</text>
<line x1="407.00" y1="463.00" x2="407.00" y2="466.00" stroke="#7c7c7c" stroke-width="1"/>
<line x1="446.40" y1="463.00" x2="446.40" y2="466.00" stroke="#7c7c7c" stroke-width="1"/>
<line x1="485.50" y1="463.00" x2="485.50" y2="466.00" stroke="#7c7c7c" stroke-width="1"/>
<rect x="415.10" y="390.81" width="11.60" height="72.19" fill="#000"/>
<rect x="427.10" y="405.70" width="10.00" height="57.30" fill="#9d9d9d" stroke="#141414" stroke-width="1.2"/>
<line x1="432.10" y1="396.20" x2="432.10" y2="414.30" stroke="#4a4a4a" stroke-width="1.1"/>
<line x1="429.60" y1="396.20" x2="434.60" y2="396.20" stroke="#4a4a4a" stroke-width="1.1"/>
<line x1="429.60" y1="414.30" x2="434.60" y2="414.30" stroke="#4a4a4a" stroke-width="1.1"/>
<rect x="454.50" y="390.81" width="11.60" height="72.19" fill="#000"/>
<rect x="466.40" y="355.20" width="10.60" height="107.80" fill="#9d9d9d" stroke="#141414" stroke-width="1.2"/>
<line x1="471.10" y1="351.50" x2="471.10" y2="363.90" stroke="#4a4a4a" stroke-width="1.1"/>
<line x1="468.60" y1="351.50" x2="473.60" y2="351.50" stroke="#4a4a4a" stroke-width="1.1"/>
<line x1="468.60" y1="363.90" x2="473.60" y2="363.90" stroke="#4a4a4a" stroke-width="1.1"/>
<path d="M468.00 347.75L468.00 344.65M466.66 346.97L469.34 345.43M469.34 346.97L466.66 345.43" stroke="#000" stroke-width="1.25" stroke-linecap="round" fill="none"/>
<circle cx="468" cy="346.2" r="0.75" fill="#000"/>
<path d="M473.70 347.75L473.70 344.65M472.36 346.97L475.04 345.43M475.04 346.97L472.36 345.43" stroke="#000" stroke-width="1.25" stroke-linecap="round" fill="none"/>
<circle cx="473.7" cy="346.2" r="0.75" fill="#000"/>
<text x="366.30" y="401.90" font-size="11" font-weight="bold" text-anchor="middle" textLength="86.00" lengthAdjust="spacingAndGlyphs" transform="rotate(-90 366.30 401.90)">Phosphorylation</text>
<text x="378.60" y="400.00" font-size="10" font-weight="bold" text-anchor="middle" textLength="51.50" lengthAdjust="spacingAndGlyphs" transform="rotate(-90 378.60 400.00)">(% control)</text>
<text x="440.50" y="471.30" font-size="10" font-weight="bold" text-anchor="end" transform="rotate(-36 440.50 471.30)">ERK1/2-P</text>
<text x="474.30" y="471.30" font-size="10" font-weight="bold" text-anchor="end" transform="rotate(-38 474.30 471.30)">Akt-P</text>
</svg>
</body></html>
